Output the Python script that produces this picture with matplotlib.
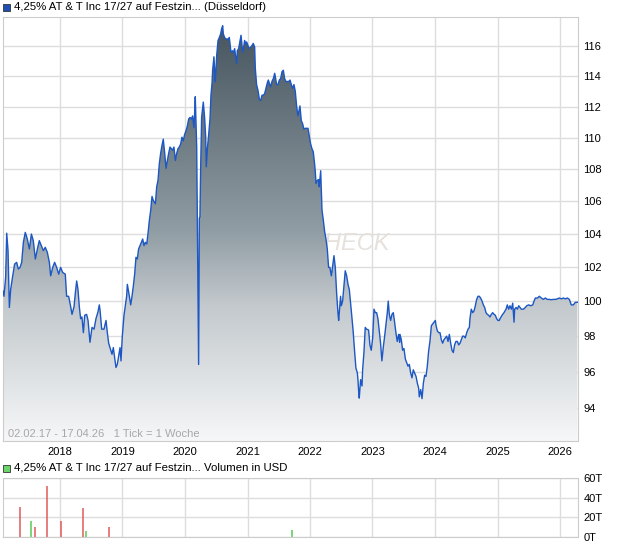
import numpy as np
import matplotlib
matplotlib.use("Agg")
import matplotlib.pyplot as plt
import matplotlib.dates as mdates
from matplotlib import ticker
from matplotlib.colors import LinearSegmentedColormap
from matplotlib.patches import Rectangle

plt.rcParams['font.family'] = ['Liberation Sans', 'DejaVu Sans']

# weekly ticks, counted from 02.02.2017 (1 Tick = 1 Woche)
weeks_a = [0.0, 0.8, 2.2, 3.1, 4.2, 5.3, 6.4, 8.1, 9.7, 11.4, 12.8, 14.2, 15.6, 17.0, 18.6, 20.3, 22.0, 23.7, 25.3, 27.0,
           28.7, 30.3, 32.0, 33.7, 35.3, 37.0, 38.7, 39.8, 41.5, 43.1, 44.8, 46.5, 48.1, 49.8, 52.0, 53.1, 54.8, 56.5,
           57.6, 59.3, 60.4, 61.5, 62.6, 63.7, 64.8, 65.9, 67.1, 68.2, 69.8, 71.0, 72.6, 74.3, 76.0, 77.6, 79.3, 80.4]
prices_a = [100.6, 100.3, 101.4, 104.05, 103.0, 99.65, 100.7, 101.5, 102.2, 102.3, 101.9, 102.0, 102.3, 103.5, 104.1,
            103.7, 103.1, 104.0, 103.6, 102.5, 103.1, 103.6, 103.3, 103.0, 103.2, 102.9, 102.3, 101.5, 102.0, 102.3,
            102.0, 101.6, 102.0, 101.7, 101.6, 100.3, 100.3, 99.7, 99.25, 99.7, 100.5, 101.2, 100.7, 99.7, 99.0, 99.1,
            98.2, 99.2, 99.25, 98.9, 97.65, 98.5, 98.4, 99.0, 99.4, 99.8]

weeks_b = [81.0, 82.4, 84.3, 86.0, 87.1, 88.2, 89.3, 91.0, 92.1, 93.2, 94.3, 95.4, 96.6, 97.7, 98.5, 99.6, 101.0, 102.1,
           103.2, 103.8, 105.5, 106.6, 107.7, 108.8, 109.9, 111.0, 112.1, 113.2, 114.4, 115.5, 116.6, 117.7, 118.8,
           120.0, 121.0, 122.2, 123.3, 124.4, 125.5, 127.2, 128.3, 129.4, 130.5, 131.6, 132.7, 133.8, 135.0, 136.1,
           137.2, 138.3, 139.4, 140.5, 141.6, 142.7, 143.9, 145.0, 146.1, 147.2, 148.3, 149.4, 150.5, 151.6, 152.8,
           153.9, 155.0, 156.1, 157.2, 158.3, 159.4, 160.0, 160.5, 161.1, 161.7, 163.3, 163.9]
prices_b = [99.5, 98.4, 98.4, 98.9, 98.2, 97.6, 97.35, 96.97, 97.35, 96.8, 96.23, 96.4, 96.88, 97.35, 96.6, 98.0, 99.2,
            99.75, 100.3, 101.0, 100.3, 99.8, 100.3, 100.9, 101.6, 102.6, 102.5, 103.1, 103.3, 103.5, 103.7, 103.3,
            103.5, 103.4, 104.0, 104.85, 105.45, 106.3, 106.05, 105.85, 106.9, 107.3, 108.35, 109.0, 109.5, 109.9,
            109.0, 108.05, 108.55, 109.0, 109.4, 109.3, 109.2, 109.4, 108.55, 109.0, 109.3, 109.4, 109.6, 110.03,
            109.8, 110.2, 110.45, 110.75, 111.2, 111.3, 111.2, 111.4, 110.65, 111.6, 112.65, 111.1, 109.4, 96.4, 104.95]

weeks_c = [164.4, 165.0, 165.8, 166.7, 167.2, 168.3, 169.2, 169.7, 170.6, 171.7, 172.8, 173.6, 174.5, 175.0, 176.1,
           176.7, 177.2, 178.4, 179.5, 180.6, 181.7, 182.5, 183.4, 183.9, 185.0, 186.1, 187.3, 188.4, 188.9, 189.5,
           190.3, 191.4, 192.3, 193.4, 193.9, 195.1, 195.6, 196.7, 197.8, 198.7, 199.5, 200.1, 200.9, 201.7, 202.6,
           203.4, 204.5, 205.6, 206.7, 207.8, 208.9, 210.1, 210.6, 211.7, 212.9, 214.0, 215.1, 216.2, 217.3, 218.4,
           219.5, 220.6, 221.5, 222.3, 223.4, 224.5, 225.7, 226.8, 227.6, 228.4, 229.5, 230.7, 231.8, 232.9, 234.0,
           235.1, 236.2, 237.3, 238.5, 239.6, 240.7, 241.8, 242.9, 244.0, 245.1, 246.2, 247.4]
prices_c = [105.05, 108.05, 111.3, 111.95, 112.3, 111.3, 110.05, 108.15, 109.3, 110.2, 111.2, 112.75, 113.55, 114.4,
            115.3, 114.3, 113.65, 115.4, 116.4, 116.6, 116.85, 117.2, 117.4, 116.85, 116.6, 116.5, 116.5, 116.5, 116.6,
            116.2, 115.6, 115.7, 115.6, 115.85, 115.5, 114.85, 115.7, 115.85, 116.35, 116.75, 116.05, 115.6, 115.95,
            116.4, 116.2, 116.3, 116.05, 115.85, 115.95, 116.05, 116.2, 115.95, 114.55, 113.45, 113.05, 112.5, 112.4,
            112.75, 112.75, 112.85, 113.2, 113.55, 113.75, 113.55, 113.3, 113.65, 113.85, 114.2, 113.85, 113.45,
            113.45, 113.75, 113.85, 114.3, 114.4, 113.85, 113.65, 113.65, 113.65, 113.75, 113.45, 113.2, 113.45,
            113.0, 112.05, 111.4, 111.85]

weeks_d = [247.9, 249.0, 250.1, 251.2, 252.4, 253.5, 254.6, 255.7, 256.8, 257.9, 259.0, 260.1, 260.7, 261.3, 262.4,
           263.5, 264.0, 265.2, 265.7, 266.3, 267.4, 268.5, 269.6, 270.7, 271.8, 272.9, 274.1, 275.2, 276.3, 277.4,
           278.5, 279.6, 280.2, 280.7, 281.8, 282.4, 283.5, 284.6, 285.7, 286.9, 288.0, 289.1, 290.2, 291.3, 292.4,
           293.5, 294.6, 295.8, 296.3, 296.9, 297.4, 298.5, 299.7, 300.2, 301.3, 302.4, 303.5, 305.2, 306.3, 307.4,
           308.6, 309.7, 310.8, 311.9, 313.0, 314.1, 315.2, 316.3, 317.5, 318.6, 319.7, 320.8, 321.6, 322.5, 323.6,
           324.7, 325.8, 326.9, 328.0, 329.1, 330.3, 331.1]
prices_d = [112.05, 111.1, 110.9, 110.55, 110.6, 110.6, 110.6, 110.1, 109.6, 109.3, 109.1, 108.35, 107.85, 107.1,
            107.3, 107.35, 106.9, 107.9, 106.7, 105.45, 104.85, 104.15, 103.7, 103.1, 102.0, 102.0, 101.5, 102.1,
            102.7, 102.0, 100.5, 99.35, 98.9, 99.35, 100.3, 99.75, 100.02, 100.9, 101.8, 101.5, 101.0, 100.7, 99.9,
            99.05, 98.2, 97.15, 96.2, 95.93, 95.55, 94.9, 94.53, 95.55, 95.2, 96.1, 97.07, 98.5, 98.4, 98.35, 97.5,
            97.2, 97.9, 99.55, 99.35, 99.35, 99.0, 98.3, 97.6, 96.6, 97.4, 98.0, 98.7, 99.35, 100.02, 99.25, 98.9,
            99.25, 99.35, 98.8, 98.2, 97.7, 98.1, 97.65]

weeks_e = [331.4, 332.5, 333.6, 334.7, 335.9, 337.0, 338.1, 339.2, 340.3, 341.4, 342.5, 343.6, 344.8, 345.9, 347.0,
           347.5, 348.7, 349.8, 350.9, 352.0, 353.1, 354.2, 355.3, 356.4, 357.6, 358.7, 359.8, 360.9, 361.5, 362.6,
           363.7, 364.8, 365.9, 367.0, 368.1, 369.2, 370.4, 371.5, 372.6, 373.7, 374.8, 375.9, 377.0, 378.1, 379.3,
           380.4, 381.5, 382.6, 383.7, 384.8, 385.9, 387.1, 388.2, 389.3, 389.8, 390.9, 392.1, 393.2, 394.3, 395.4,
           396.5, 397.6, 398.7, 399.9, 401.0, 402.1, 403.2, 404.3, 405.4, 406.5, 407.6, 408.8, 409.9, 411.0, 412.1,
           413.2, 414.3]
prices_e = [98.1, 97.8, 97.2, 97.3, 96.7, 96.5, 96.3, 96.4, 95.93, 95.65, 96.1, 95.93, 95.73, 95.35, 95.07, 94.6, 95.0,
            94.5, 95.35, 95.8, 95.73, 96.3, 97.15, 97.7, 98.6, 98.7, 98.8, 98.9, 98.6, 98.3, 98.2, 98.2, 97.8, 97.6,
            97.8, 97.9, 98.0, 97.7, 98.1, 97.6, 97.2, 97.07, 97.5, 97.7, 97.7, 97.5, 97.6, 97.8, 98.0, 98.0, 97.9,
            98.2, 98.4, 98.5, 99.0, 99.55, 99.35, 99.45, 99.75, 100.12, 100.3, 100.3, 100.2, 100.02, 99.8, 99.65,
            99.35, 99.25, 99.2, 99.1, 99.25, 99.35, 99.25, 99.2, 99.0, 98.9, 98.9]

weeks_f = [414.9, 416.6, 418.2, 419.9, 421.0, 422.1, 423.2, 424.4, 425.5, 426.6, 427.1, 428.3, 429.4, 430.5, 431.6,
           432.7, 434.4, 436.0, 437.2, 438.8, 440.5, 442.2, 443.3, 444.4, 446.1, 447.7, 449.4, 451.1, 452.7, 454.4,
           456.1, 457.8, 459.4, 461.1, 462.8, 464.4, 466.1, 467.8, 469.4, 471.1, 472.8, 474.4, 476.1, 477.8, 479.5]
prices_f = [99.0, 99.2, 99.35, 99.55, 99.8, 99.55, 99.75, 99.55, 99.9, 98.8, 99.55, 99.65, 99.55, 99.75, 99.65, 99.55,
            99.55, 99.65, 99.75, 99.8, 99.75, 99.8, 100.02, 100.2, 100.2, 100.3, 100.2, 100.12, 100.2, 100.12, 100.12,
            100.1, 100.12, 100.12, 100.15, 100.2, 100.15, 100.2, 100.15, 100.2, 100.12, 99.8, 99.8, 99.95, 99.95]

# volume in thousand USD
vol_weeks = [14.0, 23.6, 26.3, 36.6, 48.8, 67.0, 69.0, 88.2, 241.0]
vol_values = [30.7, 16.4, 10.2, 52.2, 16.4, 29.7, 6.1, 10.2, 7.2]
vol_up = [False, True, False, False, False, False, True, False, True]

years = list(range(2018, 2027))
price_ticks = list(range(94, 117, 2))
vol_ticks = [0, 20, 40, 60]

start = mdates.date2num(np.datetime64('2017-02-02'))
x = start + 7 * np.array(weeks_a + weeks_b + weeks_c + weeks_d + weeks_e + weeks_f)
y = np.array(prices_a + prices_b + prices_c + prices_d + prices_e + prices_f)
xmin, xmax = start, start + 7 * 480
ymin, ymax = 92.2, 118.0

W, H = 620, 546
fig = plt.figure(figsize=(W / 100, H / 100), dpi=100)
grid_col = '#dddddd'

# price panel
ax = fig.add_axes([3 / W, 1 - 441 / H, 575 / W, 424 / H])
ax.set_yscale('log')
ax.set_axisbelow(True)

cmap = LinearSegmentedColormap.from_list('fill', [(0, '#44525c'), (0.5, '#8f9ca3'), (0.68, '#c3c9cd'), (1, '#f6f7f8')])
im = ax.imshow(np.linspace(0, 1, 256).reshape(-1, 1), cmap=cmap, extent=[0, 1, 0, 1],
               transform=ax.transAxes, aspect='auto', origin='upper', zorder=1)
poly = ax.fill_between(x, y, ymin, facecolor='none', edgecolor='none')
im.set_clip_path(poly.get_paths()[0], transform=ax.transData)
ax.plot(x, y, color='#1c57c4', lw=1.0, zorder=3)

ax.text((390 - 3) / 575, (441 - 250) / 424, 'CHECK', transform=ax.transAxes, ha='right', va='baseline',
        fontsize=17, style='italic', color='#e6e1dc', zorder=0.8)
ax.text(5 / 575, 4 / 424, '02.02.17 - 17.04.26   1 Tick = 1 Woche', transform=ax.transAxes,
        fontsize=8, color='#a8a8a8', zorder=4)

ax.set_xlim(xmin, xmax)
ax.set_ylim(ymin, ymax)
ax.yaxis.tick_right()
ax.set_yticks(price_ticks)
ax.yaxis.set_major_formatter(ticker.FormatStrFormatter('%d'))
ax.yaxis.set_minor_locator(ticker.NullLocator())
ax.set_xticks([mdates.date2num(np.datetime64(f'{yr}-01-01')) for yr in years])
ax.set_xticklabels([str(yr) for yr in years])
ax.tick_params(length=0, labelsize=8, pad=4)
ax.grid(True, color=grid_col, lw=1.0)
for s in ax.spines.values():
    s.set_color('#cccccc')

# volume panel
ax2 = fig.add_axes([3 / W, 1 - 537 / H, 575 / W, 59 / H])
ax2.set_axisbelow(True)
ax2.vlines(start + 7 * np.array(vol_weeks), 0, vol_values, lw=1.1,
           colors=['#55cc55' if u else '#e05a5a' for u in vol_up], zorder=2)
ax2.set_xlim(xmin, xmax)
ax2.set_ylim(0, 60)
ax2.yaxis.tick_right()
ax2.set_yticks(vol_ticks)
ax2.set_yticklabels([f'{v}T' for v in vol_ticks])
ax2.set_xticks([mdates.date2num(np.datetime64(f'{yr}-01-01')) for yr in years])
ax2.set_xticklabels([])
ax2.tick_params(length=0, labelsize=8, pad=4)
ax2.grid(True, color=grid_col, lw=1.0)
for s in ax2.spines.values():
    s.set_color('#cccccc')

# headers with colour squares
fig.patches.append(Rectangle((3 / W, 1 - 11 / H), 7 / W, 7 / H, transform=fig.transFigure,
                             facecolor='#1f4fb0', edgecolor='#333333', lw=0.6))
fig.text(14 / W, 1 - 7 / H, '4,25% AT & T Inc 17/27 auf Festzin... (Düsseldorf)', va='center', fontsize=8.2)
fig.patches.append(Rectangle((3 / W, 1 - 472 / H), 7 / W, 7 / H, transform=fig.transFigure,
                             facecolor='#6ad66a', edgecolor='#333333', lw=0.6))
fig.text(14 / W, 1 - 468 / H, '4,25% AT & T Inc 17/27 auf Festzin... Volumen in USD', va='center', fontsize=8.2)

fig.savefig('out.png', dpi=100)
